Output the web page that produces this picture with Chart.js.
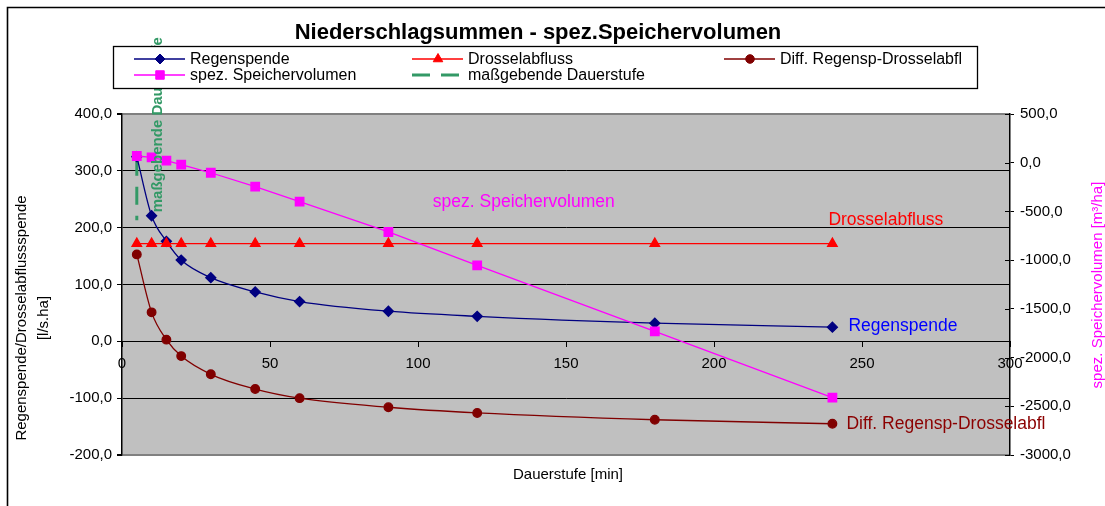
<!DOCTYPE html>
<html><head><meta charset="utf-8">
<script src="https://cdn.jsdelivr.net/npm/chart.js@4.4.1/dist/chart.umd.min.js"></script>
<style>
html,body{margin:0;padding:0;background:#fff;overflow:hidden}
#wrap{position:relative;width:1105px;height:506px}
</style></head>
<body><div id="wrap"><canvas id="c"></canvas></div>
<script>
// ---- data ----
const dauerstufen = [5, 10, 15, 20, 30, 45, 60, 90, 120, 180, 240];
const regenspende = [325, 221, 176, 143, 112, 87, 70, 53, 44, 32, 25];
const drosselabfluss = [172, 172, 172, 172, 172, 172, 172, 172, 172, 172, 172];
const diffRegenDrossel = [153, 51, 3, -26, -58, -84, -100, -116, -126, -138, -145];
const speichervolumen = [69, 55, 21, -20, -103, -246, -400, -711, -1053, -1731, -2412];
const massgebendX = [5, 5];
const massgebendY = [323, 213];
const xTicks = [0, 50, 100, 150, 200, 250, 300];
const leftTicks = [-200, -100, 0, 100, 200, 300, 400];
const rightTicks = [-3000, -2500, -2000, -1500, -1000, -500, 0, 500];
const seriesNames = ['Regenspende', 'Drosselabfluss', 'Diff. Regensp-Drosselabfl', 'spez. Speichervolumen', 'maßgebende Dauerstufe'];
const chartTitle = 'Niederschlagsummen - spez.Speichervolumen';
const xTitle = 'Dauerstufe [min]';
const leftTitle = ['Regenspende/Drosselabflussspende', '[l/s.ha]'];
const rightTitle = 'spez. Speichervolumen [m³/ha]';
const verticalNote = 'maßgebende Dauerstufe';

const pts = (xs, ys) => xs.map((x, i) => ({x, y: ys[i]}));
const fmt = v => Number(v).toFixed(1).replace('.', ',');
const FONT = "'Liberation Sans', Arial, sans-serif";
Chart.defaults.font.family = FONT;
Chart.defaults.color = '#000';

const setTicks = arr => scale => { scale.ticks = arr.map(v => ({value: v})); };

const deco = {
  id: 'deco',
  beforeDraw(chart) {
    const {ctx, chartArea: a} = chart;
    ctx.save();
    ctx.fillStyle = '#C0C0C0';
    ctx.fillRect(a.left, a.top, a.right - a.left, a.bottom - a.top);
    ctx.restore();
  },
  afterDraw(chart) {
    const {ctx, scales, chartArea: a} = chart;
    const xs = scales.x, yl = scales.y, yr = scales.y2;
    const ds = chart.data.datasets;
    ctx.save();
    // outer frame (top + left)
    ctx.strokeStyle = '#000'; ctx.lineWidth = 1.6;
    ctx.beginPath(); ctx.moveTo(7.5, 520); ctx.lineTo(7.5, 7.5); ctx.lineTo(1120, 7.5); ctx.stroke();

    // inner half of the crossing tick marks on the secondary axis
    ctx.lineWidth = 1;
    rightTicks.forEach(v => {
      const y = Math.round(yr.getPixelForValue(v)) + 0.5;
      ctx.beginPath(); ctx.moveTo(a.right - 5, y); ctx.lineTo(a.right, y); ctx.stroke();
    });

    // vertical note next to the decisive duration line
    ctx.save();
    ctx.translate(xs.getPixelForValue(massgebendX[0]) + 21, yl.getPixelForValue(massgebendY[1]) - 8);
    ctx.rotate(-Math.PI / 2);
    ctx.font = 'bold 15px ' + FONT; ctx.fillStyle = '#339966';
    ctx.textAlign = 'left'; ctx.textBaseline = 'middle';
    ctx.fillText(verticalNote, 0, 0);
    ctx.restore();

    // legend box
    ctx.fillStyle = '#fff';
    ctx.fillRect(113.5, 46.5, 864, 42);
    ctx.strokeStyle = '#000'; ctx.lineWidth = 1.3;
    ctx.strokeRect(113.5, 46.5, 864, 42);
    const colX = [134, 412, 724], rowY = [59, 75];
    ds.forEach((d, i) => {
      const x0 = colX[i % 3], y0 = rowY[Math.floor(i / 3)];
      ctx.save();
      ctx.strokeStyle = d.borderColor; ctx.lineWidth = d.legendLineWidth || 1.3;
      ctx.setLineDash(d.borderDash || []);
      ctx.beginPath(); ctx.moveTo(x0, y0); ctx.lineTo(x0 + 51, y0); ctx.stroke();
      ctx.setLineDash([]);
      if (d.pointRadius > 0) {
        ctx.fillStyle = d.pointBackgroundColor; ctx.strokeStyle = d.pointBorderColor; ctx.lineWidth = 1;
        Chart.helpers.drawPoint(ctx, {pointStyle: d.pointStyle, radius: d.pointRadius, rotation: 0, borderWidth: 1}, x0 + 26, y0);
      }
      ctx.restore();
      ctx.font = '16px ' + FONT; ctx.fillStyle = '#000';
      ctx.textAlign = 'left'; ctx.textBaseline = 'middle';
      ctx.fillText(d.label, x0 + 56, y0 + 1);
    });

    // title
    ctx.font = 'bold 22px ' + FONT; ctx.fillStyle = '#000';
    ctx.textAlign = 'center'; ctx.textBaseline = 'alphabetic';
    ctx.fillText(chartTitle, 538, 39);

    // axis titles
    ctx.font = '15px ' + FONT; ctx.textAlign = 'center'; ctx.textBaseline = 'middle';
    ctx.fillText(xTitle, 568, 475);
    ctx.save(); ctx.translate(22, 318); ctx.rotate(-Math.PI / 2);
    ctx.fillText(leftTitle[0], 0, 0); ctx.fillText(leftTitle[1], 0, 22);
    ctx.restore();
    ctx.save(); ctx.translate(1098, 285); ctx.rotate(-Math.PI / 2);
    ctx.fillStyle = '#FF00FF'; ctx.fillText(rightTitle, 0, 0);
    ctx.restore();

    // series labels in the plot
    ctx.font = '17.5px ' + FONT; ctx.textAlign = 'left'; ctx.textBaseline = 'middle';
    const n = dauerstufen.length - 1;
    ctx.fillStyle = '#0000FF';
    ctx.fillText(seriesNames[0], xs.getPixelForValue(dauerstufen[n]) + 16, yl.getPixelForValue(regenspende[n]) - 1);
    ctx.fillStyle = '#8B0000';
    ctx.fillText(seriesNames[2], xs.getPixelForValue(dauerstufen[n]) + 14, yl.getPixelForValue(diffRegenDrossel[n]));
    ctx.fillStyle = '#FF0000';
    ctx.fillText(seriesNames[1], xs.getPixelForValue(dauerstufen[n]) - 4, yl.getPixelForValue(drosselabfluss[n]) - 23);
    ctx.fillStyle = '#FF00FF';
    ctx.fillText(seriesNames[3], xs.getPixelForValue(105), yr.getPixelForValue(-405));
    ctx.restore();
  }
};

new Chart(document.getElementById('c'), {
  type: 'line',
  data: {
    datasets: [
      {label: seriesNames[0], data: pts(dauerstufen, regenspende), yAxisID: 'y', order: 4,
       borderColor: '#000080', borderWidth: 1.3, cubicInterpolationMode: 'monotone',
       pointStyle: 'rectRot', pointRadius: 5, pointBackgroundColor: '#000080', pointBorderColor: '#000080'},
      {label: seriesNames[1], data: pts(dauerstufen, drosselabfluss), yAxisID: 'y', order: 2,
       borderColor: '#FF0000', borderWidth: 1.3, tension: 0,
       pointStyle: 'triangle', pointRadius: 5.5, pointBackgroundColor: '#FF0000', pointBorderColor: '#FF0000'},
      {label: seriesNames[2], data: pts(dauerstufen, diffRegenDrossel), yAxisID: 'y', order: 3,
       borderColor: '#800000', borderWidth: 1.3, cubicInterpolationMode: 'monotone',
       pointStyle: 'circle', pointRadius: 4.3, pointBackgroundColor: '#800000', pointBorderColor: '#800000'},
      {label: seriesNames[3], data: pts(dauerstufen, speichervolumen), yAxisID: 'y2', order: 1,
       borderColor: '#FF00FF', borderWidth: 1.3, tension: 0,
       pointStyle: 'rect', pointRadius: 6, pointBackgroundColor: '#FF00FF', pointBorderColor: '#FF00FF'},
      {label: seriesNames[4], data: pts(massgebendX, massgebendY), yAxisID: 'y', order: 5,
       borderColor: '#339966', borderWidth: 3, borderDash: [18, 11], legendLineWidth: 3, tension: 0,
       pointRadius: 0}
    ]
  },
  options: {
    responsive: true, maintainAspectRatio: false, animation: false,
    devicePixelRatio: 1,
    layout: {padding: {left: 0, right: 0, top: 114, bottom: 51}},
    plugins: {legend: {display: false}, title: {display: false}, tooltip: {enabled: false}},
    scales: {
      x: {
        type: 'linear', position: {y: 0}, min: xTicks[0], max: xTicks[xTicks.length - 1],
        afterBuildTicks: setTicks(xTicks),
        grid: {drawOnChartArea: false, drawTicks: true, tickLength: 5, color: '#000'},
        border: {display: true, color: '#000', width: 1},
        ticks: {font: {size: 15}, color: '#000', padding: 9, maxRotation: 0, autoSkip: false, callback: v => String(v)}
      },
      y: {
        type: 'linear', position: 'left', min: leftTicks[0], max: leftTicks[leftTicks.length - 1],
        afterBuildTicks: setTicks(leftTicks),
        afterFit: s => { s.width = 122; },
        grid: {
          color: c => (c.tick && (c.tick.value === 400 || c.tick.value === -200)) ? '#808080' : '#000',
          lineWidth: c => (c.tick && (c.tick.value === 400 || c.tick.value === -200)) ? 2 : 1,
          tickColor: '#000', tickLength: 5
        },
        border: {display: true, color: '#000', width: 1.5},
        ticks: {font: {size: 15}, color: '#000', padding: 5, autoSkip: false, callback: fmt}
      },
      y2: {
        type: 'linear', position: 'right', min: rightTicks[0], max: rightTicks[rightTicks.length - 1],
        afterBuildTicks: setTicks(rightTicks),
        afterFit: s => { s.width = 95; },
        grid: {drawOnChartArea: false, tickLength: 4, color: '#000'},
        border: {display: true, color: '#000', width: 1.5},
        ticks: {font: {size: 15}, color: '#000', padding: 6, autoSkip: false, callback: fmt}
      }
    }
  },
  plugins: [deco]
});
</script>
</body></html>
